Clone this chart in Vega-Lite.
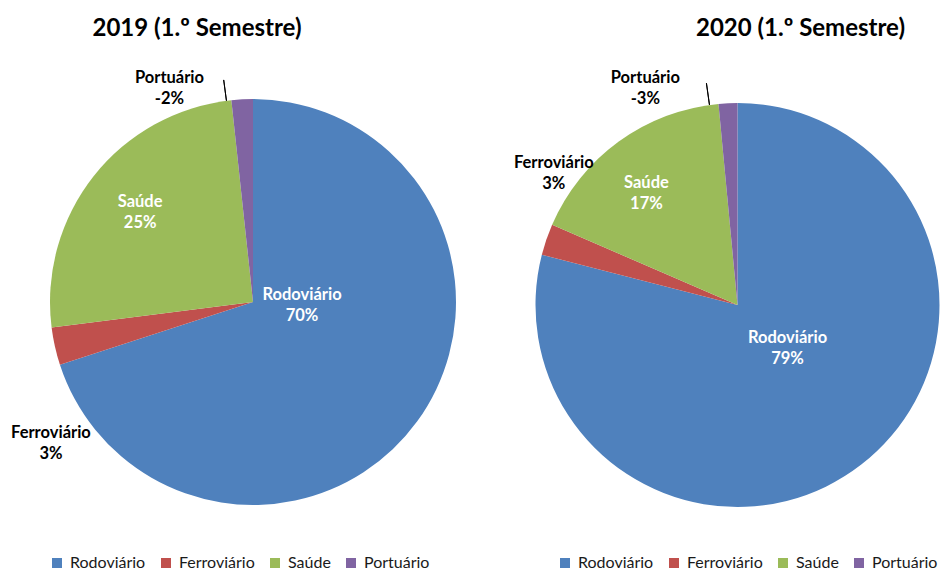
{
  "$schema": "https://vega.github.io/schema/vega-lite/v6.json",
  "padding": {"top": 17, "left": 0, "right": 0, "bottom": 0},
  "autosize": {"type": "pad"},
  "spacing": 29,
  "bounds": "flush",
  "background": "white",
  "config": {"view": {"stroke": null}, "font": "Lato"},
  "resolve": {"legend": {"color": "independent"}},
  "hconcat": [
    {
      "width": 506,
      "height": 514,
      "title": {"text": "2019 (1.º Semestre)", "font": "Lato", "fontSize": 24, "fontWeight": "bold", "color": "black", "anchor": "middle", "frame": "group", "dx": -56, "offset": 4},
      "data": {"values": [
        {"serie": "Rodoviário", "ordem": 1, "valor": 70.0, "rotulo": "Rodoviário\n70%"},
        {"serie": "Ferroviário", "ordem": 2, "valor": 3.0, "rotulo": "Ferroviário\n3%"},
        {"serie": "Saúde", "ordem": 3, "valor": 25.3, "rotulo": "Saúde\n25%"},
        {"serie": "Portuário", "ordem": 4, "valor": 1.7, "rotulo": "Portuário\n-2%"}
      ]},
      "layer": [
        {
          "mark": {"type": "arc", "radius": 203},
          "encoding": {
            "theta": {"field": "valor", "type": "quantitative", "stack": true},
            "order": {"field": "ordem", "type": "quantitative"},
            "color": {
              "field": "serie", "type": "nominal", "sort": null,
              "scale": {"domain": ["Rodoviário", "Ferroviário", "Saúde", "Portuário"], "range": ["#4F81BD", "#C0504D", "#9BBB59", "#8064A2"]},
              "legend": {"title": null, "orient": "none", "legendX": 49, "legendY": 510, "direction": "horizontal", "symbolType": "square", "symbolSize": 100, "symbolStrokeWidth": 0, "labelFont": "Lato", "labelFontSize": 16, "labelColor": "#1a1a1a", "labelOffset": 5, "columnPadding": 12, "padding": 0}
            }
          }
        },
        {
          "transform": [{"filter": "datum.ordem === 1"}],
          "mark": {"type": "arc", "theta": 6.152, "theta2": 6.152, "radius": 224, "radius2": 203, "fillOpacity": 0, "stroke": "black", "strokeWidth": 1},
          "encoding": {}
        },
        {
          "transform": [{"stack": "valor", "groupby": [], "sort": [{"field": "ordem", "order": "ascending"}], "as": ["v0", "v1"]}, {"filter": "datum.serie === 'Rodoviário'"}],
          "mark": {"type": "text", "radius": 0, "dx": 49, "dy": -7.5, "font": "Lato", "fontSize": 16.5, "fontWeight": "bold", "fill": "white", "lineBreak": "\n", "lineHeight": 21, "align": "center", "baseline": "middle"},
          "encoding": {"theta": {"field": "v0", "type": "quantitative", "stack": null}, "text": {"field": "rotulo"}}
        },
        {
          "transform": [{"stack": "valor", "groupby": [], "sort": [{"field": "ordem", "order": "ascending"}], "as": ["v0", "v1"]}, {"filter": "datum.serie === 'Saúde'"}],
          "mark": {"type": "text", "radius": 145, "dx": 31, "dy": -118.5, "font": "Lato", "fontSize": 16.5, "fontWeight": "bold", "fill": "white", "lineBreak": "\n", "lineHeight": 21, "align": "center", "baseline": "middle"},
          "encoding": {"theta": {"field": "v0", "type": "quantitative", "stack": null}, "text": {"field": "rotulo"}}
        },
        {
          "transform": [{"stack": "valor", "groupby": [], "sort": [{"field": "ordem", "order": "ascending"}], "as": ["v0", "v1"]}, {"filter": "datum.serie === 'Portuário'"}],
          "mark": {"type": "text", "radius": 230, "dx": -59, "dy": 4.5, "font": "Lato", "fontSize": 16.5, "fontWeight": "bold", "fill": "black", "lineBreak": "\n", "lineHeight": 21, "align": "center", "baseline": "middle"},
          "encoding": {"theta": {"field": "v0", "type": "quantitative", "stack": null}, "text": {"field": "rotulo"}}
        },
        {
          "transform": [{"stack": "valor", "groupby": [], "sort": [{"field": "ordem", "order": "ascending"}], "as": ["v0", "v1"]}, {"filter": "datum.serie === 'Ferroviário'"}],
          "mark": {"type": "text", "radius": 203, "dx": -9, "dy": 68.5, "font": "Lato", "fontSize": 16.5, "fontWeight": "bold", "fill": "black", "lineBreak": "\n", "lineHeight": 21, "align": "center", "baseline": "middle"},
          "encoding": {"theta": {"field": "v0", "type": "quantitative", "stack": null}, "text": {"field": "rotulo"}}
        }
      ]
    },
    {
      "width": 405,
      "height": 520,
      "title": {"text": "2020 (1.º Semestre)", "font": "Lato", "fontSize": 24, "fontWeight": "bold", "color": "black", "anchor": "middle", "frame": "group", "dx": 63, "offset": 4},
      "data": {"values": [
        {"serie": "Rodoviário", "ordem": 1, "valor": 79.0, "rotulo": "Rodoviário\n79%"},
        {"serie": "Ferroviário", "ordem": 2, "valor": 2.5, "rotulo": "Ferroviário\n3%"},
        {"serie": "Saúde", "ordem": 3, "valor": 17.0, "rotulo": "Saúde\n17%"},
        {"serie": "Portuário", "ordem": 4, "valor": 1.5, "rotulo": "Portuário\n-3%"}
      ]},
      "layer": [
        {
          "mark": {"type": "arc", "radius": 202},
          "encoding": {
            "theta": {"field": "valor", "type": "quantitative", "stack": true},
            "order": {"field": "ordem", "type": "quantitative"},
            "color": {
              "field": "serie", "type": "nominal", "sort": null,
              "scale": {"domain": ["Rodoviário", "Ferroviário", "Saúde", "Portuário"], "range": ["#4F81BD", "#C0504D", "#9BBB59", "#8064A2"]},
              "legend": {"title": null, "orient": "none", "legendX": 22, "legendY": 510, "direction": "horizontal", "symbolType": "square", "symbolSize": 100, "symbolStrokeWidth": 0, "labelFont": "Lato", "labelFontSize": 16, "labelColor": "#1a1a1a", "labelOffset": 5, "columnPadding": 12, "padding": 0}
            }
          }
        },
        {
          "transform": [{"filter": "datum.ordem === 1"}],
          "mark": {"type": "arc", "theta": 6.144, "theta2": 6.144, "radius": 224, "radius2": 202, "fillOpacity": 0, "stroke": "black", "strokeWidth": 1},
          "encoding": {}
        },
        {
          "transform": [{"stack": "valor", "groupby": [], "sort": [{"field": "ordem", "order": "ascending"}], "as": ["v0", "v1"]}, {"filter": "datum.serie === 'Rodoviário'"}],
          "mark": {"type": "text", "radius": 0, "dx": 50, "dy": 32.5, "font": "Lato", "fontSize": 16.5, "fontWeight": "bold", "fill": "white", "lineBreak": "\n", "lineHeight": 21, "align": "center", "baseline": "middle"},
          "encoding": {"theta": {"field": "v0", "type": "quantitative", "stack": null}, "text": {"field": "rotulo"}}
        },
        {
          "transform": [{"stack": "valor", "groupby": [], "sort": [{"field": "ordem", "order": "ascending"}], "as": ["v0", "v1"]}, {"filter": "datum.serie === 'Saúde'"}],
          "mark": {"type": "text", "radius": 145, "dx": 42, "dy": -64.5, "font": "Lato", "fontSize": 16.5, "fontWeight": "bold", "fill": "white", "lineBreak": "\n", "lineHeight": 21, "align": "center", "baseline": "middle"},
          "encoding": {"theta": {"field": "v0", "type": "quantitative", "stack": null}, "text": {"field": "rotulo"}}
        },
        {
          "transform": [{"stack": "valor", "groupby": [], "sort": [{"field": "ordem", "order": "ascending"}], "as": ["v0", "v1"]}, {"filter": "datum.serie === 'Portuário'"}],
          "mark": {"type": "text", "radius": 225, "dx": -71, "dy": -3, "font": "Lato", "fontSize": 16.5, "fontWeight": "bold", "fill": "black", "lineBreak": "\n", "lineHeight": 21, "align": "center", "baseline": "middle"},
          "encoding": {"theta": {"field": "v0", "type": "quantitative", "stack": null}, "text": {"field": "rotulo"}}
        },
        {
          "transform": [{"stack": "valor", "groupby": [], "sort": [{"field": "ordem", "order": "ascending"}], "as": ["v0", "v1"]}, {"filter": "datum.serie === 'Ferroviário'"}],
          "mark": {"type": "text", "radius": 202, "dx": 12, "dy": -92, "font": "Lato", "fontSize": 16.5, "fontWeight": "bold", "fill": "black", "lineBreak": "\n", "lineHeight": 21, "align": "center", "baseline": "middle"},
          "encoding": {"theta": {"field": "v0", "type": "quantitative", "stack": null}, "text": {"field": "rotulo"}}
        }
      ]
    }
  ]
}
